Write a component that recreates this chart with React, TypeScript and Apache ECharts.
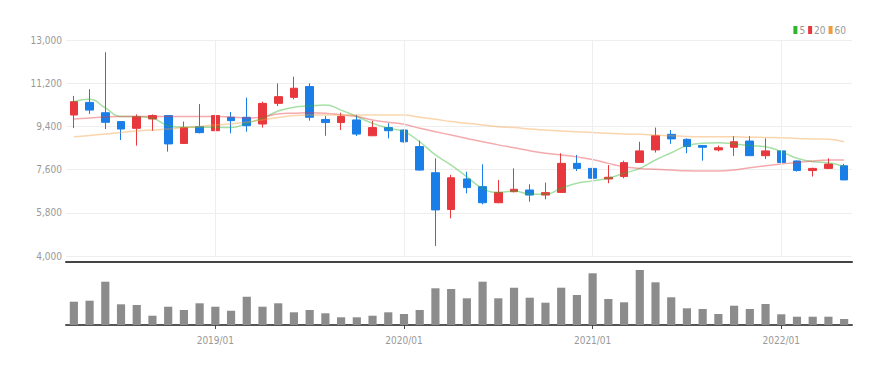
import React, { useEffect, useRef } from "react";
import * as echarts from "echarts";

const months = [
  "2018/04", "2018/05", "2018/06", "2018/07", "2018/08", "2018/09", "2018/10", "2018/11", "2018/12",
  "2019/01", "2019/02", "2019/03", "2019/04", "2019/05", "2019/06", "2019/07", "2019/08", "2019/09", "2019/10", "2019/11", "2019/12",
  "2020/01", "2020/02", "2020/03", "2020/04", "2020/05", "2020/06", "2020/07", "2020/08", "2020/09", "2020/10", "2020/11", "2020/12",
  "2021/01", "2021/02", "2021/03", "2021/04", "2021/05", "2021/06", "2021/07", "2021/08", "2021/09", "2021/10", "2021/11", "2021/12",
  "2022/01", "2022/02", "2022/03", "2022/04", "2022/05",
];

// [open, close, low, high]
const ohlc: number[][] = [
  [9875, 10430, 9330, 10670], [10400, 10080, 9920, 10950], [9970, 9570, 9290, 12490], [9600, 9290, 8830, 9620],
  [9320, 9800, 8600, 9900], [9710, 9850, 9210, 9900], [9850, 8670, 8350, 9860], [8690, 9350, 8680, 9600],
  [9390, 9140, 9110, 10330], [9220, 9850, 8550, 9880], [9780, 9640, 9110, 10000], [9780, 9430, 9180, 10600],
  [9500, 10360, 9350, 10430], [10360, 10640, 10250, 11190], [10610, 10990, 10530, 11470], [11060, 9780, 9640, 11190],
  [9690, 9560, 9010, 9830], [9560, 9810, 9250, 9970], [9670, 9080, 9000, 9880], [9010, 9350, 9000, 9630],
  [9350, 9220, 8900, 9530], [9250, 8760, 8720, 9270], [8560, 7580, 7560, 8810], [7470, 5920, 4420, 8070],
  [5940, 7260, 5570, 7380], [7210, 6850, 6610, 7510], [6890, 6220, 6150, 7820], [6220, 6650, 6200, 7170],
  [6680, 6780, 6650, 7650], [6750, 6540, 6260, 6990], [6540, 6640, 6360, 7060], [6650, 7860, 6640, 8280],
  [7860, 7650, 7540, 8210], [7650, 7240, 7170, 8900], [7210, 7280, 7030, 7790], [7310, 7890, 7240, 7970],
  [7900, 8380, 7880, 8760], [8420, 9010, 8310, 9350], [9070, 8880, 8670, 9250], [8860, 8560, 8280, 8900],
  [8600, 8530, 7970, 8610], [8420, 8510, 8360, 8600], [8530, 8760, 8170, 9000], [8790, 8180, 8170, 9000],
  [8180, 8380, 8040, 8900], [8380, 7900, 7510, 8400], [7960, 7560, 7520, 7980], [7560, 7650, 7310, 7680],
  [7650, 7830, 7620, 8070], [7760, 7170, 7160, 7840],
];

const ma5 = [
  10430, 10530, 10170, 9810, 9810, 9740, 9430, 9360, 9360, 9360, 9350, 9530, 9740, 10040, 10200, 10250, 10290,
  10080, 9810, 9530, 9320, 9180, 8760, 8210, 7790, 7300, 6820, 6650, 6710, 6580, 6570, 6820, 7030, 7130, 7240,
  7450, 7650, 8000, 8300, 8600, 8700, 8720, 8670, 8600, 8550, 8350, 8070, 7930, 7890, 7720,
];

const ma20 = [
  9710, 9750, 9790, 9810, 9810, 9810, 9810, 9810, 9810, 9810, 9790, 9750, 9790, 9920, 9950, 9970, 9950,
  9880, 9810, 9670, 9570, 9490, 9320, 9180, 9040, 8900, 8760, 8630, 8510, 8390, 8280, 8210, 8130, 8020, 7860,
  7720, 7650, 7610, 7580, 7550, 7540, 7540, 7580, 7680, 7760, 7830, 7900, 7960, 8000, 8000,
];

const ma60 = [
  8970, 9020, 9080, 9150, 9210, 9250, 9290, 9350, 9400, 9460, 9500, 9580, 9670, 9770, 9850, 9875, 9875,
  9875, 9875, 9875, 9875, 9875, 9780, 9700, 9600, 9530, 9460, 9390, 9350, 9290, 9250, 9210, 9180, 9150, 9110,
  9080, 9070, 9040, 9010, 8980, 8970, 8970, 8970, 8950, 8940, 8930, 8900, 8880, 8860, 8760,
];

const volumes = [
  2330, 2430, 4330, 2070, 2000, 930, 1830, 1500, 2170, 1830, 1430, 2830, 1830, 2170, 1270, 1500, 1170,
  770, 770, 930, 1270, 1100, 1500, 3670, 3600, 2670, 4330, 2670, 3730, 2730, 2230, 3730, 3000, 5170, 2600,
  2270, 5500, 4270, 2770, 1670, 1600, 1100, 1930, 1600, 2100, 1070, 830, 830, 830, 600,
];

const yearMarks = ["2019/01", "2020/01", "2021/01", "2022/01"];

const maNames = ["5", "20", "60"];
const maColors = ["#2db52d", "#e8383d", "#f29b3c"];

const labelFont = "'Liberation Sans Narrow', 'DejaVu Sans Condensed', 'Liberation Sans', sans-serif";

export default function App() {
  const ref = useRef<HTMLDivElement>(null);
  useEffect(() => {
    if (!ref.current) return;
    const chart = echarts.init(ref.current, undefined, { renderer: "svg" });
    const maData = [ma5, ma20, ma60];
    chart.setOption({
      animation: false,
      backgroundColor: "#ffffff",
      legend: {
        data: maNames,
        right: 42,
        top: 20,
        icon: "rect",
        itemWidth: 4,
        itemHeight: 8,
        itemGap: 3,
        textStyle: { fontSize: 10, color: "#999", fontFamily: labelFont, padding: [0, 0, 0, -3] },
      },
      grid: [
        { left: 66, right: 41, top: 40, height: 216 },
        { left: 66, right: 41, top: 263, height: 62 },
      ],
      xAxis: [
        {
          type: "category",
          gridIndex: 0,
          data: months,
          offset: 6,
          axisLine: { show: true, lineStyle: { color: "#444", width: 2 } },
          axisTick: { show: false },
          axisLabel: { show: false },
          splitLine: { show: false },
        },
        {
          type: "category",
          gridIndex: 1,
          data: months,
          axisLine: { show: true, lineStyle: { color: "#555", width: 2 } },
          axisTick: {
            show: true,
            alignWithLabel: true,
            length: 4,
            interval: (i: number, v: string) => v.endsWith("/01"),
            lineStyle: { color: "#444" },
          },
          axisLabel: {
            interval: (i: number, v: string) => v.endsWith("/01"),
            color: "#999",
            fontSize: 10,
            fontFamily: labelFont,
            margin: 10,
          },
          splitLine: { show: false },
        },
      ],
      yAxis: [
        {
          type: "value",
          gridIndex: 0,
          min: 4000,
          max: 13000,
          interval: 1800,
          axisLine: { show: false },
          axisTick: { show: false },
          axisLabel: {
            color: "#999",
            fontSize: 10,
            fontFamily: labelFont,
            margin: 4,
            formatter: (v: number) => v.toLocaleString("en-US"),
          },
          splitLine: { lineStyle: { color: "#eeeeee" } },
        },
        {
          type: "value",
          gridIndex: 1,
          min: 0,
          max: 6200,
          show: false,
          splitLine: { show: false },
        },
      ],
      series: [
        {
          type: "line",
          xAxisIndex: 0,
          yAxisIndex: 0,
          data: [],
          z: 0,
          silent: true,
          markLine: {
            silent: true,
            symbol: "none",
            label: { show: false },
            lineStyle: { color: "#eeeeee", type: "solid", width: 1 },
            data: yearMarks.map((m) => ({ xAxis: m })),
          },
        },
        {
          type: "candlestick",
          name: "price",
          xAxisIndex: 0,
          yAxisIndex: 0,
          barWidth: "52%",
          data: ohlc,
          z: 3,
          itemStyle: {
            color: "#e8383d",
            color0: "#1a7ee8",
            borderColor: "#e8383d",
            borderColor0: "#1a7ee8",
            borderWidth: 1,
          },
        },
        ...maNames.map((n, i) => ({
          type: "line",
          name: n,
          xAxisIndex: 0,
          yAxisIndex: 0,
          data: maData[i],
          smooth: true,
          symbol: "none",
          z: 4,
          itemStyle: { color: maColors[i] },
          lineStyle: { color: maColors[i], width: 1.5, opacity: 0.42 },
        })),
        {
          type: "bar",
          name: "volume",
          xAxisIndex: 1,
          yAxisIndex: 1,
          data: volumes,
          barWidth: "52%",
          itemStyle: { color: "#8c8c8c" },
        },
      ],
    });
    return () => chart.dispose();
  }, []);
  return (
    <div
      ref={ref}
      style={{ position: "fixed", left: 0, top: 0, width: 893, height: 365, background: "#fff" }}
    />
  );
}
